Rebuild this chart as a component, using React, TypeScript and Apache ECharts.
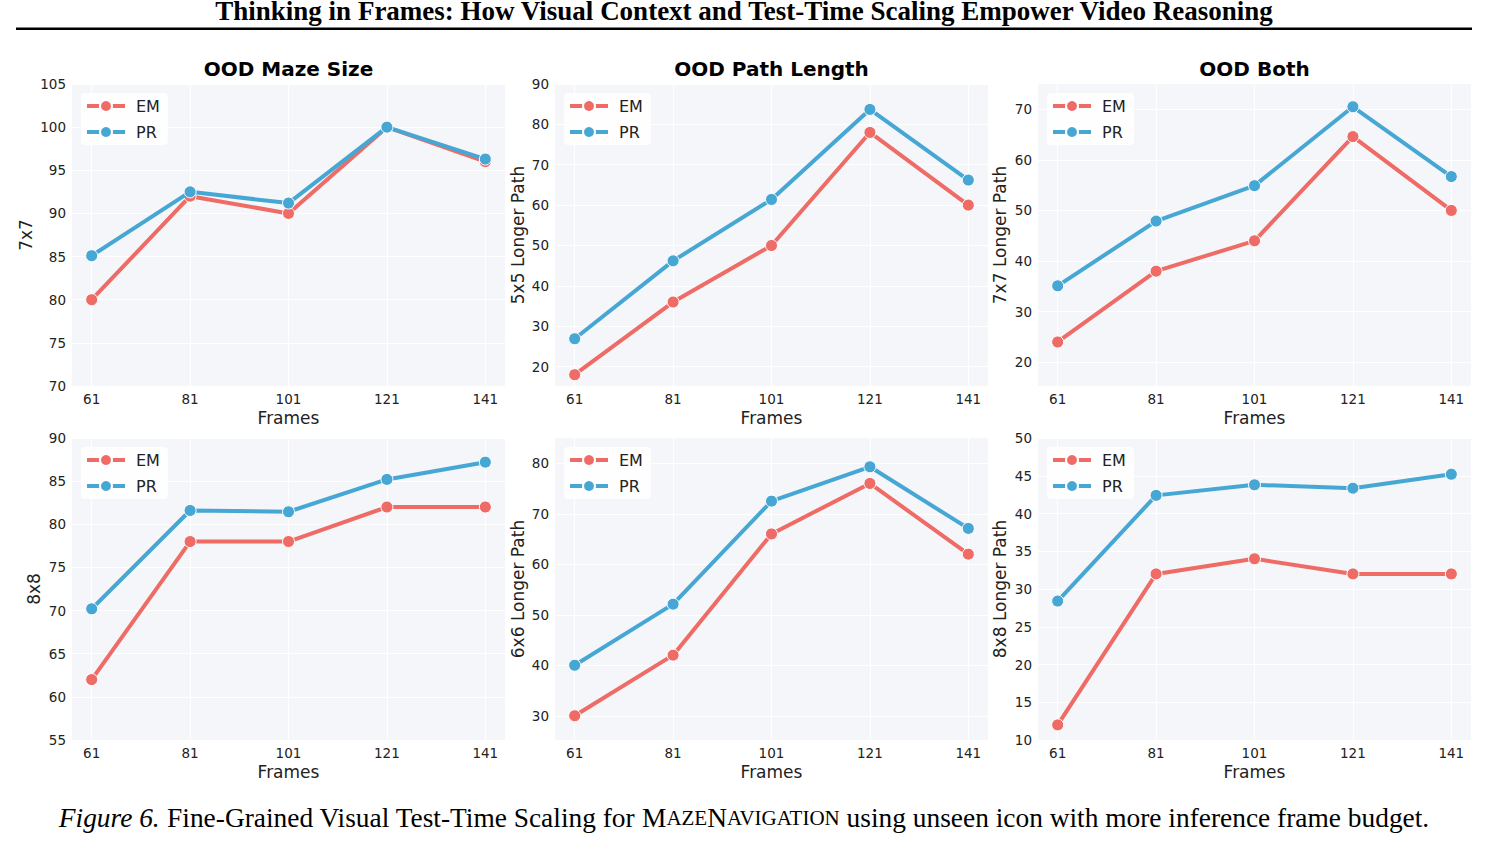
import React, { useEffect, useRef } from "react";
import * as echarts from "echarts";

// ---- data ----
const frames = [61, 81, 101, 121, 141];

const mazeSize7EM = [80, 92, 90, 100, 96];
const mazeSize7PR = [85.1, 92.5, 91.2, 100, 96.3];
const pathLen5EM = [18, 36, 50, 78, 60];
const pathLen5PR = [26.9, 46.2, 61.4, 83.7, 66.2];
const both7EM = [24, 38, 44, 64.6, 50];
const both7PR = [35.1, 47.9, 54.9, 70.5, 56.7];
const mazeSize8EM = [62, 78, 78, 82, 82];
const mazeSize8PR = [70.2, 81.6, 81.45, 85.2, 87.2];
const pathLen6EM = [30, 42, 66, 76, 62];
const pathLen6PR = [40, 52.1, 72.5, 79.3, 67.1];
const both8EM = [12, 32, 34, 32, 32];
const both8PR = [28.4, 42.4, 43.8, 43.35, 45.2];

const yTicks1 = [70, 75, 80, 85, 90, 95, 100, 105];
const yTicks2 = [20, 30, 40, 50, 60, 70, 80, 90];
const yTicks3 = [20, 30, 40, 50, 60, 70];
const yTicks4 = [55, 60, 65, 70, 75, 80, 85, 90];
const yTicks5 = [30, 40, 50, 60, 70, 80];
const yTicks6 = [10, 15, 20, 25, 30, 35, 40, 45, 50];

const yNames = ["7x7", "5x5 Longer Path", "7x7 Longer Path", "8x8", "6x6 Longer Path", "8x8 Longer Path"];
const panelTitles = ["OOD Maze Size", "OOD Path Length", "OOD Both"];
const seriesNames = ["EM", "PR"];

const FONT = "DejaVu Sans";
const SERIF = "'Liberation Serif', 'Times New Roman', serif";
const EM_COLOR = "#EE6B66";
const PR_COLOR = "#47A7D4";
const TXT = "#222222";

export default function App() {
  const ref = useRef<HTMLDivElement>(null);

  useEffect(() => {
    if (!ref.current) return;
    const chart = echarts.init(ref.current, null, { renderer: "svg" });

    const panels = [
      { left: 72, top: 84, em: mazeSize7EM, pr: mazeSize7PR, min: 70, max: 105, ticks: yTicks1, gap: 38 },
      { left: 555, top: 84, em: pathLen5EM, pr: pathLen5PR, min: 15.2, max: 90, ticks: yTicks2, gap: 29 },
      { left: 1038, top: 84, em: both7EM, pr: both7PR, min: 15.3, max: 75, ticks: yTicks3, gap: 30 },
      { left: 72, top: 438, em: mazeSize8EM, pr: mazeSize8PR, min: 55, max: 90, ticks: yTicks4, gap: 30 },
      { left: 555, top: 438, em: pathLen6EM, pr: pathLen6PR, min: 25.2, max: 85, ticks: yTicks5, gap: 29 },
      { left: 1038, top: 438, em: both8EM, pr: both8PR, min: 10, max: 50, ticks: yTicks6, gap: 30 },
    ];
    const W = 433;
    const H = 302;

    const grid = panels.map((p) => ({
      left: p.left,
      top: p.top,
      width: W,
      height: H,
      show: true,
      backgroundColor: "#F4F6FA",
      borderWidth: 0,
      containLabel: false,
    }));

    const xAxis = panels.map((p, i) => ({
      type: "value",
      gridIndex: i,
      min: 57,
      max: 145,
      name: "Frames",
      nameLocation: "middle",
      nameGap: 23,
      nameTextStyle: { fontFamily: FONT, fontSize: 17, color: TXT },
      axisLine: { show: false },
      axisTick: { show: false, customValues: frames },
      axisLabel: { customValues: frames, fontFamily: FONT, fontSize: 13.5, color: TXT, margin: 6 },
      splitLine: { show: true, lineStyle: { color: "#ffffff", width: 1.2 } },
    }));

    const yAxis = panels.map((p, i) => ({
      type: "value",
      gridIndex: i,
      min: p.min,
      max: p.max,
      name: yNames[i],
      nameLocation: "middle",
      nameGap: p.gap,
      nameTextStyle: { fontFamily: FONT, fontSize: 17, color: TXT },
      axisLine: { show: false },
      axisTick: { show: false, customValues: p.ticks },
      axisLabel: { customValues: p.ticks, fontFamily: FONT, fontSize: 13.5, color: TXT, margin: 6 },
      splitLine: { show: true, lineStyle: { color: "#ffffff", width: 1.2 } },
    }));

    const series: any[] = [];
    panels.forEach((p, i) => {
      [p.em, p.pr].forEach((vals, k) => {
        const color = k === 0 ? EM_COLOR : PR_COLOR;
        series.push({
          type: "line",
          name: seriesNames[k],
          xAxisIndex: i,
          yAxisIndex: i,
          data: frames.map((f, j) => [f, vals[j]]),
          symbol: "circle",
          symbolSize: 12,
          itemStyle: { color, borderColor: "#ffffff", borderWidth: 1 },
          lineStyle: { color, width: 4 },
          z: 2 + k,
        });
      });
    });

    const legend = panels.map((p) => ({
      left: p.left + 9,
      top: p.top + 9,
      orient: "vertical",
      data: seriesNames,
      itemWidth: 38,
      itemHeight: 15,
      itemGap: 10,
      selectedMode: false,
      backgroundColor: "rgba(255,255,255,0.85)",
      borderRadius: 4,
      padding: [5, 8, 5, 4],
      lineStyle: { width: 4 },
      textStyle: { fontFamily: FONT, fontSize: 16, color: TXT, padding: [0, 0, 0, 6] },
    }));

    const graphic: any[] = [
      {
        type: "text",
        x: 744,
        y: 24,
        style: {
          text: "Thinking in Frames: How Visual Context and Test-Time Scaling Empower Video Reasoning",
          font: `bold 27px ${SERIF}`,
          fill: "#000",
          textAlign: "center",
          textVerticalAlign: "bottom",
        },
      },
      {
        type: "rect",
        shape: { x: 16, y: 27.5, width: 1456, height: 2.5 },
        style: { fill: "#000" },
      },
      ...panelTitles.map((t, i) => ({
        type: "text",
        x: panels[i].left + W / 2,
        y: 69,
        style: {
          text: t,
          font: `bold 20px ${FONT}`,
          fill: "#000",
          textAlign: "center",
          textVerticalAlign: "middle",
        },
      })),
      {
        type: "text",
        x: 744,
        y: 818,
        style: {
          text:
            "{i|Figure 6.} Fine-Grained Visual Test-Time Scaling for {n|M}{s|AZE}{n|N}{s|AVIGATION} using unseen icon with more inference frame budget.",
          font: `27.4px ${SERIF}`,
          fontFamily: SERIF,
          fontSize: 27.4,
          fill: "#000",
          textAlign: "center",
          textVerticalAlign: "middle",
          rich: {
            i: { fontStyle: "italic", fontFamily: SERIF, fontSize: 27.4, fill: "#000" },
            n: { fontFamily: SERIF, fontSize: 27.4, fill: "#000" },
            s: { fontFamily: SERIF, fontSize: 21, fill: "#000" },
          },
        },
      },
    ];

    chart.setOption({
      animation: false,
      backgroundColor: "#ffffff",
      grid,
      xAxis,
      yAxis,
      series,
      legend,
      graphic,
    });

    return () => chart.dispose();
  }, []);

  return (
    <div
      ref={ref}
      style={{ position: "absolute", left: 0, top: 0, width: 1488, height: 849 }}
    />
  );
}
